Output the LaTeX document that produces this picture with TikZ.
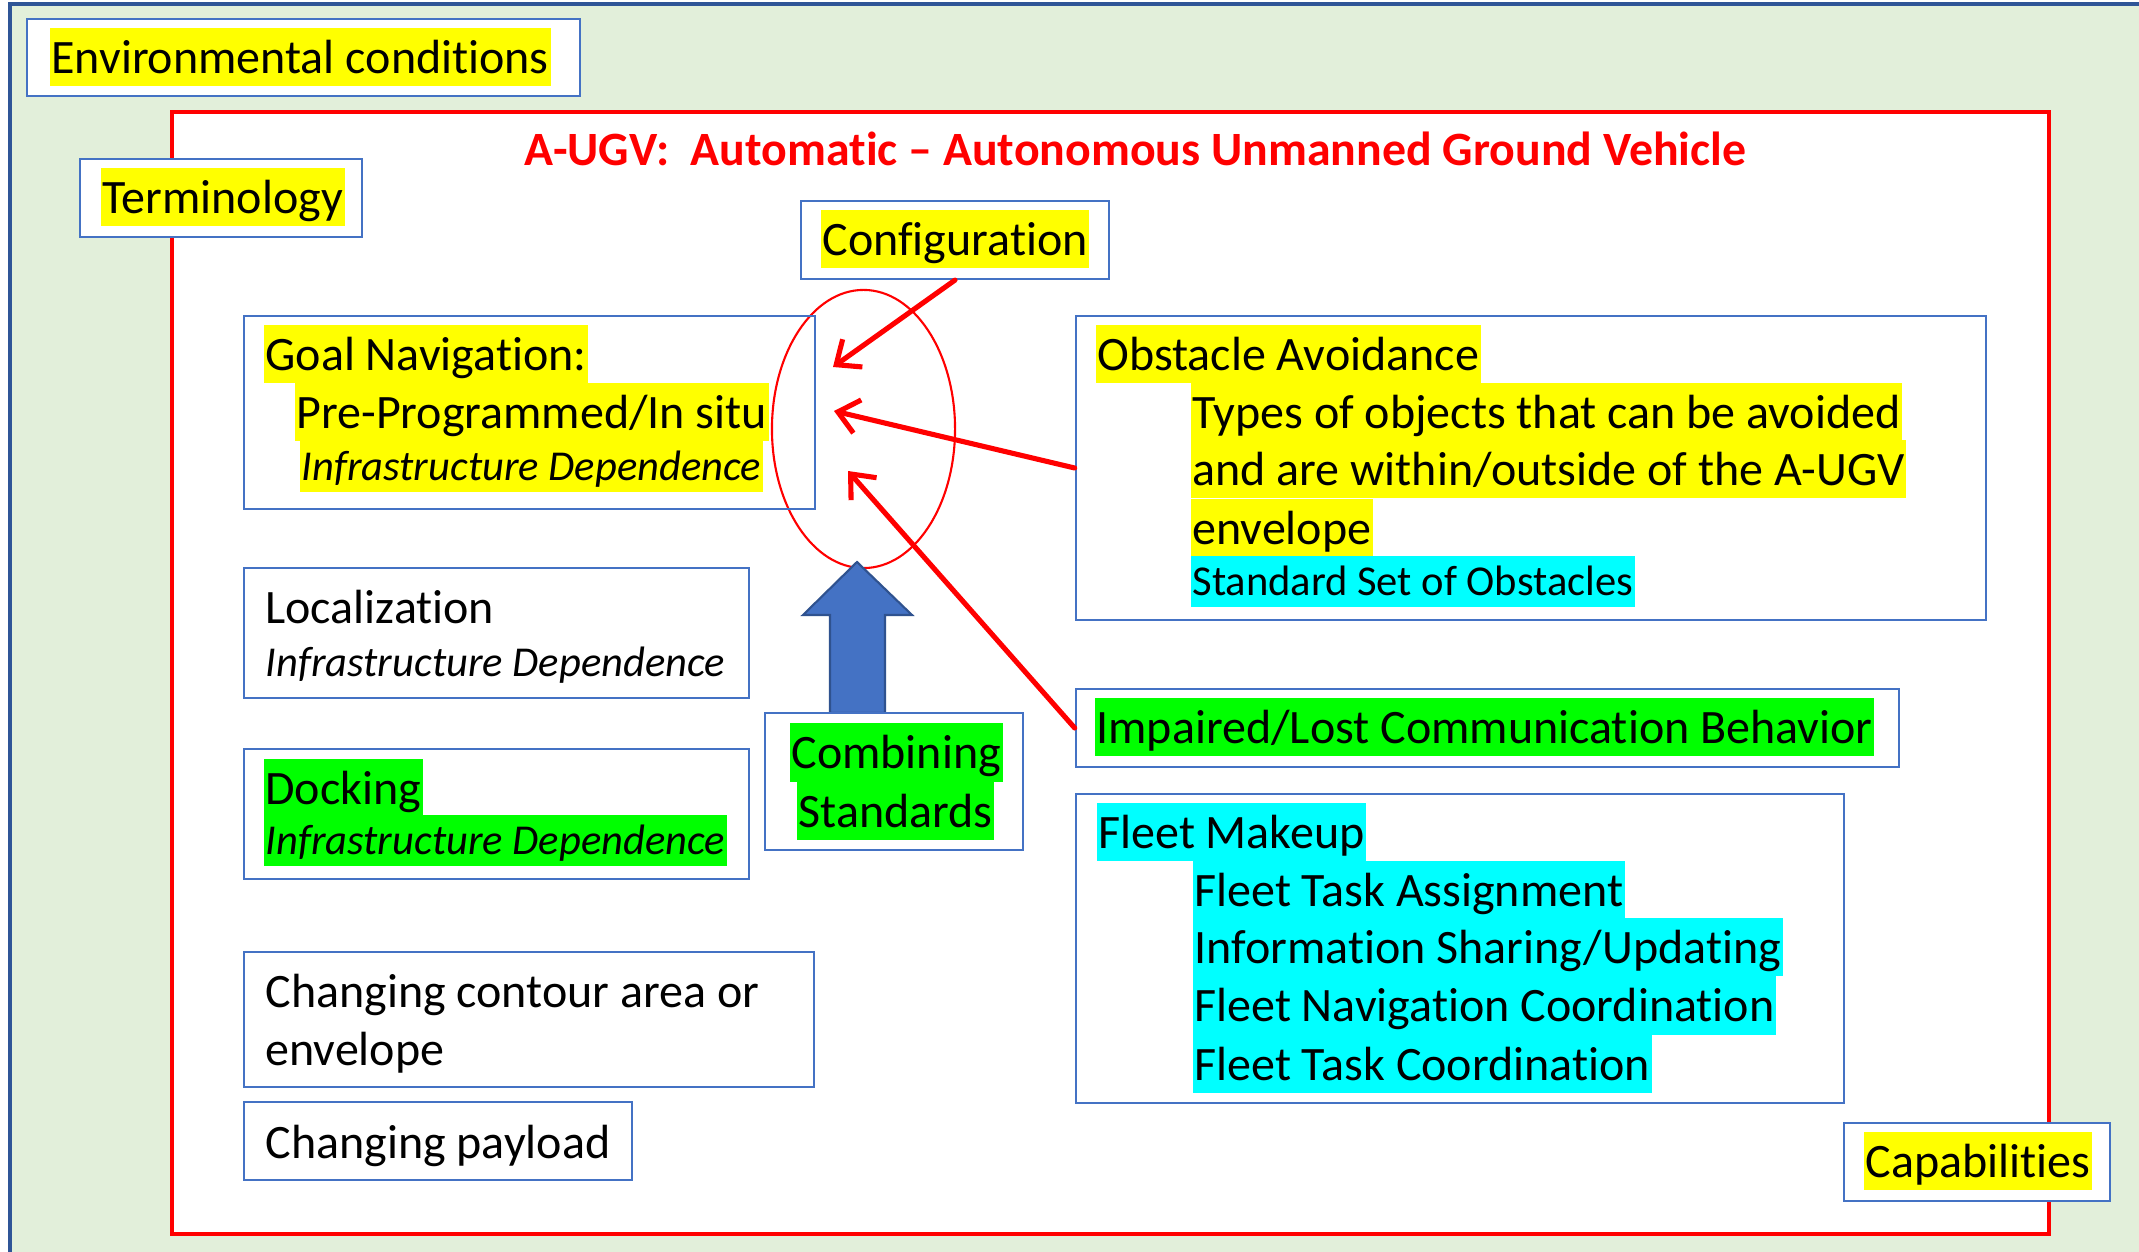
\documentclass[tikz,border=0pt]{standalone}
\usepackage{fontspec}
\setmainfont{Carlito}[Ligatures={NoCommon}]
\usetikzlibrary{arrows.meta,shapes.geometric}
\definecolor{bggreen}{HTML}{E2EFDA}
\definecolor{boxblue}{HTML}{4472C4}
\definecolor{frameblue}{HTML}{2F5597}
\definecolor{hlyellow}{HTML}{FFFF00}
\definecolor{hlgreen}{HTML}{00FF00}
\definecolor{hlcyan}{HTML}{00FFFF}
\definecolor{arrowblue}{HTML}{4472C4}
\definecolor{arrowedge}{HTML}{2F528F}
\definecolor{pptred}{HTML}{FF0000}
\newcommand\bodyfs{\fontsize{13.65pt}{16pt}\selectfont}
\newcommand\smallfs{\fontsize{12.1pt}{14pt}\selectfont}
\newcommand\titlefs{\fontsize{13.6pt}{16pt}\selectfont}
\begin{document}
\begin{tikzpicture}[x=0.01cm,y=-0.01cm,
  box/.style={draw=boxblue, line width=0.6pt, fill=white, inner sep=0pt},
  txt/.style={anchor=north west, inner xsep=0.5pt, inner ysep=0pt, text height=12.9pt, text depth=3.75pt, font=\bodyfs},
  stxt/.style={txt, font=\smallfs, text height=11.35pt, text depth=3.3pt},
  itxt/.style={stxt, font=\smallfs\itshape},
  yl/.style={fill=hlyellow},
  gr/.style={fill=hlgreen},
  cy/.style={fill=hlcyan},
  redarrow/.style={draw=pptred, line width=1.45pt, line cap=round, -{Straight Barb[length=0.2cm, width=0.34cm]}}
]
\useasboundingbox (0,0) rectangle (2139,1252);
% background
\fill[bggreen] (10,4) rectangle (2139,1252);
\draw[frameblue, line width=0.9pt] (2139,4) -- (10,4) -- (10,1252);
% red frame
\draw[pptred, fill=white, line width=0.9pt] (172,112) rectangle (2049,1234);
% title
\node[anchor=base west, inner sep=0pt, text=pptred, font=\titlefs\bfseries] (title) at (524,166) {A-UGV:\ \ Automatic – Autonomous Unmanned Ground Vehicle};

% outer boxes
\node[box, minimum width=5.53cm, minimum height=0.77cm] (env) at (303.5,57.5) {};
\node[txt, yl] (envt) at (49,27) {Environmental conditions};
\node[box, minimum width=2.82cm, minimum height=0.78cm] (term) at (221,198) {};
\node[txt, yl] (termt) at (100,167) {Terminology};

% ellipse
\node[draw=pptred, line width=0.6pt, ellipse, minimum width=1.83cm, minimum height=2.78cm, inner sep=0pt] (ell) at (863.5,429) {};

% configuration
\node[box, minimum width=3.08cm, minimum height=0.78cm] (conf) at (955,240) {};
\node[txt, yl] (conft) at (820,209) {Configuration};

% goal navigation
\node[box, minimum width=5.71cm, minimum height=1.93cm, fill=none] (goal) at (529.5,412.5) {};
\node[txt, yl] (goal1) at (263,324) {Goal Navigation:};
\node[txt, yl] (goal2) at (294,382) {Pre-Programmed/In situ};
\node[itxt, yl] (goal3) at (299,440) {Infrastructure Dependence};

% localization
\node[box, minimum width=5.05cm, minimum height=1.30cm] (loc) at (496.5,633) {};
\node[txt] (loc1) at (263,577) {Localization};
\node[itxt] (loc2) at (263,636) {Infrastructure Dependence};

% docking
\node[box, minimum width=5.05cm, minimum height=1.30cm] (dock) at (496.5,814) {};
\node[txt, gr] (dock1) at (263,758) {Docking};
\node[itxt, gr] (dock2) at (263,814) {Infrastructure Dependence};

% changing contour
\node[box, minimum width=5.70cm, minimum height=1.35cm] (cont) at (529,1019.5) {};
\node[txt] (cont1) at (263,961) {Changing contour area or};
\node[txt] (cont2) at (263,1019) {envelope};

% changing payload
\node[box, minimum width=3.88cm, minimum height=0.78cm] (pay) at (438,1141) {};
\node[txt] (payt) at (263,1112) {Changing payload};

% blue block arrow
\coordinate (bat) at (857,562);
\filldraw[fill=arrowblue, draw=arrowedge, line width=0.6pt]
  (830,713) -- (830,615) -- (803,615) -- (bat) -- (912,615) -- (885,615) -- (885,713) -- cycle;

% combining standards
\node[box, minimum width=2.58cm, minimum height=1.37cm] (comb) at (894,781.5) {};
\node[txt, gr] (comb1) at (789,722.5) {Combining};
\node[txt, gr] (comb2) at (796,781) {Standards};

% obstacle avoidance
\node[box, minimum width=9.10cm, minimum height=3.04cm] (obs) at (1531,468) {};
\node[txt, yl] (obs1) at (1095,324) {Obstacle Avoidance};
\node[txt, yl] (obs2) at (1190,382) {Types of objects that can be avoided\hspace{0.25em}};
\node[txt, yl] (obs3) at (1190,439) {and are within/outside of the A-UGV\hspace{0.25em}};
\node[txt, yl] (obs4) at (1190,498) {envelope};
\node[stxt, cy] (obs5) at (1190,555) {Standard Set of Obstacles};

% impaired
\node[box, minimum width=8.23cm, minimum height=0.78cm] (imp) at (1487.5,728) {};
\node[txt, gr] (impt) at (1094,697) {Impaired/Lost Communication Behavior};

% fleet
\node[box, minimum width=7.68cm, minimum height=3.09cm] (fleet) at (1460,948.5) {};
\node[txt, cy] (fl1) at (1096,802) {Fleet Makeup};
\node[txt, cy] (fl2) at (1192,860) {Fleet Task Assignment};
\node[txt, cy] (fl3) at (1192,917) {Information Sharing/Updating};
\node[txt, cy] (fl4) at (1192,975.5) {Fleet Navigation Coordination};
\node[txt, cy] (fl5) at (1192,1034) {Fleet Task Coordination};

% capabilities
\node[box, minimum width=2.66cm, minimum height=0.78cm] (cap) at (1977,1162) {};
\node[txt, yl] (capt) at (1863,1131) {Capabilities};

% red arrows
\coordinate (t1) at (833,367);
\coordinate (t2) at (834,411);
\coordinate (t3) at (848,471);
\draw[redarrow] (conf.south) -- (t1);
\draw[redarrow] (obs.west) -- (t2);
\draw[redarrow] (imp.west) -- (t3);
\end{tikzpicture}
\end{document}
